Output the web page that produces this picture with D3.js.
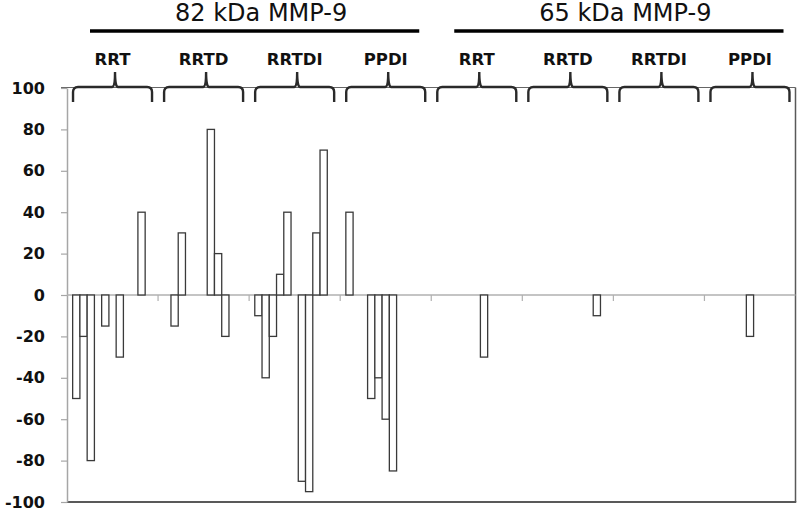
<!DOCTYPE html>
<html>
<head>
<meta charset="utf-8">
<script src="https://cdn.jsdelivr.net/npm/d3@7"></script>
<style>
  body { margin: 0; background: #fff; }
  text { font-family: "DejaVu Sans", sans-serif; }
</style>
</head>
<body>
<div id="chart"></div>
<script>
// group labels (4 treatments x 2 MMP-9 forms) and isoform titles
var groups = ["RRT", "RRTD", "RRTDI", "PPDI", "RRT", "RRTD", "RRTDI", "PPDI"];
var isoforms = ["82 kDa MMP-9", "65 kDa MMP-9"];
var yTicks = [-100, -80, -60, -40, -20, 0, 20, 40, 60, 80, 100];

// values per subject slot (11 per group), null = no bar
var rrt82   = [-50, -20, -80, null, -15, null, -30, null, null, 40, null];
var rrtd82  = [null, -15, 30, null, null, null, 80, 20, -20, null, null];
var rrtdi82 = [-10, -40, -20, 10, 40, null, -90, -95, 30, 70, null];
var ppdi82  = [40, null, null, -50, -40, -60, -85, null, null, null, null];
var rrt65   = [null, null, null, null, null, null, -30, null, null, null, null];
var rrtd65  = [null, null, null, null, null, null, null, null, null, -10, null];
var rrtdi65 = [null, null, null, null, null, null, null, null, null, null, null];
var ppdi65  = [null, null, null, null, null, -20, null, null, null, null, null];

var series = [rrt82, rrtd82, rrtdi82, ppdi82, rrt65, rrtd65, rrtdi65, ppdi65];

var margin = { top: 88, right: 4.5, bottom: 11, left: 67 },
    W = 800, H = 513,
    width = W - margin.left - margin.right,
    height = H - margin.top - margin.bottom;

var svg = d3.select("#chart")
    .append("svg")
    .attr("width", W)
    .attr("height", H);

var g = svg.append("g")
    .attr("transform", "translate(" + margin.left + "," + margin.top + ")");

// scales
var x0 = d3.scaleBand()
    .domain(d3.range(groups.length))
    .range([0, width])
    .padding(0);

var x1 = d3.scaleBand()
    .domain(d3.range(11))
    .range([0, x0.bandwidth()])
    .paddingInner(0)
    .paddingOuter(0.78);

var y = d3.scaleLinear()
    .domain([-100, 100])
    .range([height, 0]);

// frame: top, right, bottom
g.append("line")
    .attr("x1", -6).attr("x2", width)
    .attr("y1", -0.5).attr("y2", -0.5)
    .attr("stroke", "#666").attr("stroke-width", 1.2);
g.append("line")
    .attr("x1", width).attr("x2", width)
    .attr("y1", -0.5).attr("y2", height)
    .attr("stroke", "#595959").attr("stroke-width", 1.5);
g.append("line")
    .attr("x1", 0).attr("x2", width + 0.75)
    .attr("y1", height).attr("y2", height)
    .attr("stroke", "#595959").attr("stroke-width", 2);

// y axis (plain hyphen for negatives, like the original)
var yAxis = g.append("g")
    .call(d3.axisLeft(y).tickValues(yTicks).tickSize(6).tickSizeOuter(0).tickPadding(16)
        .tickFormat(function (d) { return String(d); }));
yAxis.select(".domain").attr("stroke", "#a6a6a6").attr("stroke-width", 1.5);
yAxis.selectAll(".tick line").attr("stroke", "#a6a6a6").attr("stroke-width", 1.2);
yAxis.selectAll(".tick text")
    .attr("fill", "#111")
    .style("font-size", "16px")
    .style("font-weight", "bold");

// zero line + category ticks
g.append("line")
    .attr("x1", 0).attr("x2", width)
    .attr("y1", y(0)).attr("y2", y(0))
    .attr("stroke", "#b0b0b0").attr("stroke-width", 1.5);
g.selectAll(".cat-tick")
    .data(d3.range(1, groups.length))
    .enter().append("line")
    .attr("class", "cat-tick")
    .attr("x1", function (d) { return x0(d); })
    .attr("x2", function (d) { return x0(d); })
    .attr("y1", y(0)).attr("y2", y(0) + 6)
    .attr("stroke", "#b0b0b0").attr("stroke-width", 1.2);

// bars
var bars = [];
series.forEach(function (vals, gi) {
    vals.forEach(function (v, k) {
        if (v != null) bars.push({ group: gi, slot: k, value: v });
    });
});

g.selectAll(".bar")
    .data(bars)
    .enter().append("rect")
    .attr("class", "bar")
    .attr("x", function (d) { return x0(d.group) + x1(d.slot); })
    .attr("y", function (d) { return y(Math.max(0, d.value)); })
    .attr("width", x1.bandwidth())
    .attr("height", function (d) { return Math.abs(y(d.value) - y(0)); })
    .attr("fill", "#fff")
    .attr("stroke", "#3a3a3a")
    .attr("stroke-width", 1.3);

// braces over each group
var braceTop = -1, braceEnd = 14, tipTop = -16;
g.selectAll(".brace")
    .data(d3.range(groups.length))
    .enter().append("path")
    .attr("class", "brace")
    .attr("d", function (i) {
        var c = x0(i) + x0.bandwidth() / 2;
        var l = c - 39.5, r = c + 39.5, t = c + 2.5;
        return "M" + l + "," + braceEnd +
            "L" + l + "," + (braceTop + 5) +
            "Q" + l + "," + braceTop + " " + (l + 5) + "," + braceTop +
            "L" + (t - 3) + "," + braceTop +
            "Q" + t + "," + braceTop + " " + t + "," + tipTop +
            "Q" + t + "," + braceTop + " " + (t + 3) + "," + braceTop +
            "L" + (r - 5) + "," + braceTop +
            "Q" + r + "," + braceTop + " " + r + "," + (braceTop + 5) +
            "L" + r + "," + braceEnd;
    })
    .attr("fill", "none")
    .attr("stroke", "#2a2a2a")
    .attr("stroke-width", 2.4);

// group labels
g.selectAll(".glabel")
    .data(groups)
    .enter().append("text")
    .attr("class", "glabel")
    .attr("x", function (d, i) { return x0(i) + x0.bandwidth() / 2; })
    .attr("y", -23)
    .attr("text-anchor", "middle")
    .attr("fill", "#111")
    .style("font-size", "16.5px")
    .style("font-weight", "bold")
    .text(function (d) { return d; });

// isoform titles with underline bars
isoforms.forEach(function (name, j) {
    var a = x0(j * 4) + 23, b = x0(j * 4 + 3) + x0.bandwidth() - 12;
    g.append("line")
        .attr("x1", a).attr("x2", b)
        .attr("y1", -57).attr("y2", -57)
        .attr("stroke", "#000").attr("stroke-width", 3.5);
    g.append("text")
        .attr("x", (a + b) / 2 + 6.5)
        .attr("y", -67)
        .attr("text-anchor", "middle")
        .attr("fill", "#111")
        .style("font-size", "24px")
        .text(name);
});
</script>
</body>
</html>
